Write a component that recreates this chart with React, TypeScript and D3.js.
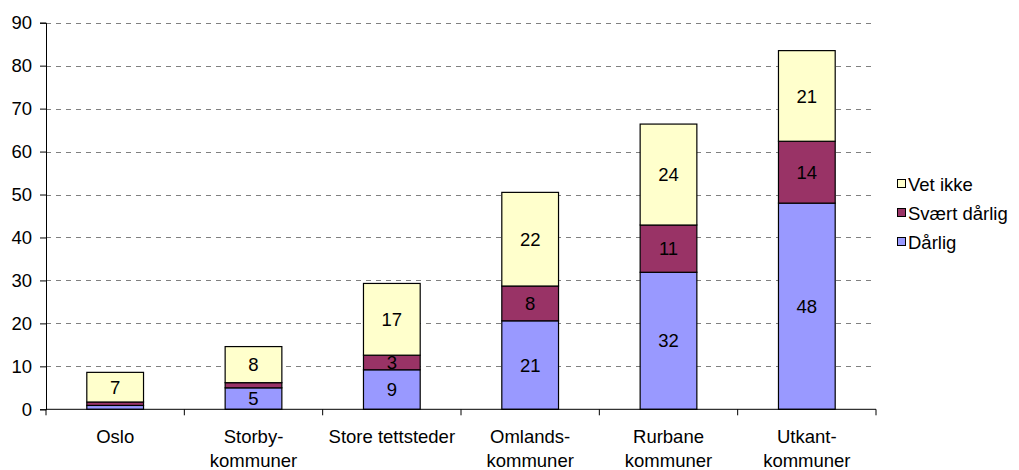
import React, { useEffect, useRef } from 'react';
import * as d3 from 'd3';

const categories = ['Oslo', 'Storby-\nkommuner', 'Store tettsteder', 'Omlands-\nkommuner', 'Rurbane\nkommuner', 'Utkant-\nkommuner'];
const darlig = [0.9, 5.0, 9.2, 20.6, 31.9, 48.0];
const svaertDarlig = [0.8, 1.2, 3.4, 8.1, 11.0, 14.4];
const vetIkke = [6.9, 8.4, 16.7, 21.8, 23.5, 21.1];
const seriesNames = ['Dårlig', 'Svært dårlig', 'Vet ikke'];
const seriesColors = ['#9999FF', '#993366', '#FFFFCC'];
const yTicks = [0, 10, 20, 30, 40, 50, 60, 70, 80, 90];

const App = () => {
  const svgRef = useRef<SVGSVGElement>(null);

  useEffect(() => {
    const width = 1019;
    const height = 470;
    const margin = { top: 22.7, right: 143, bottom: 60.7, left: 46 };

    const svg = d3.select(svgRef.current);
    svg.selectAll('*').remove();
    svg.attr('width', width).attr('height', height);

    const x = d3.scaleBand()
      .domain(categories)
      .range([margin.left, width - margin.right])
      .paddingInner(0.59)
      .paddingOuter(0.295);

    const y = d3.scaleLinear()
      .domain([0, 90])
      .range([height - margin.bottom, margin.top]);

    const font = '"Liberation Sans", Arial, sans-serif';
    const fs = 18.5;

    // gridlines
    svg.append('g')
      .selectAll('line')
      .data(yTicks.filter(t => t > 0))
      .enter()
      .append('line')
      .attr('x1', margin.left)
      .attr('x2', width - margin.right)
      .attr('y1', d => Math.round(y(d)) + 0.5)
      .attr('y2', d => Math.round(y(d)) + 0.5)
      .attr('stroke', '#808080')
      .attr('stroke-dasharray', '5,5');

    const rows = categories.map((c, i) => ({ cat: c, d0: darlig[i], d1: svaertDarlig[i], d2: vetIkke[i] }));
    const stack = d3.stack<any>().keys(['d0', 'd1', 'd2'])(rows);

    const layers = svg.append('g')
      .selectAll('g')
      .data(stack)
      .enter()
      .append('g')
      .attr('fill', (d, i) => seriesColors[i]);

    layers.selectAll('rect')
      .data(d => d)
      .enter()
      .append('rect')
      .attr('x', d => x(d.data.cat)!)
      .attr('y', d => y(d[1]))
      .attr('width', x.bandwidth())
      .attr('height', d => y(d[0]) - y(d[1]))
      .attr('stroke', '#000')
      .attr('stroke-width', 1.2);

    layers.selectAll('text')
      .data(d => d.filter(s => s[1] - s[0] >= 2))
      .enter()
      .append('text')
      .attr('x', d => x(d.data.cat)! + x.bandwidth() / 2)
      .attr('y', d => (y(d[0]) + y(d[1])) / 2)
      .attr('dy', '0.36em')
      .attr('text-anchor', 'middle')
      .attr('font-family', font)
      .attr('font-size', fs)
      .attr('fill', '#000')
      .text(d => Math.round(d[1] - d[0]));

    // y axis
    const yAxis = svg.append('g')
      .attr('transform', `translate(${margin.left},0)`)
      .call(d3.axisLeft(y).tickValues(yTicks).tickSize(6).tickPadding(8));
    yAxis.select('.domain').attr('stroke', '#000');
    yAxis.selectAll('text').attr('font-family', font).attr('font-size', fs).attr('fill', '#000');

    // x axis
    const xAxis = svg.append('g')
      .attr('transform', `translate(0,${height - margin.bottom})`);
    xAxis.append('line')
      .attr('x1', margin.left)
      .attr('x2', width - margin.right)
      .attr('stroke', '#000');
    const step = x.step();
    xAxis.selectAll('.tk')
      .data(d3.range(categories.length + 1))
      .enter()
      .append('line')
      .attr('class', 'tk')
      .attr('x1', i => margin.left + i * step)
      .attr('x2', i => margin.left + i * step)
      .attr('y1', 0)
      .attr('y2', 6)
      .attr('stroke', '#000');
    xAxis.selectAll('text')
      .data(categories)
      .enter()
      .append('text')
      .attr('x', d => x(d)! + x.bandwidth() / 2)
      .attr('y', 34)
      .attr('text-anchor', 'middle')
      .attr('font-family', font)
      .attr('font-size', fs)
      .attr('fill', '#000')
      .each(function (d) {
        const lines = d.split('\n');
        d3.select(this).selectAll('tspan')
          .data(lines)
          .enter()
          .append('tspan')
          .attr('x', x(d)! + x.bandwidth() / 2)
          .attr('dy', (l, k) => (k === 0 ? 0 : 24))
          .text(l => l);
      });

    // legend
    const legendItems = [2, 1, 0];
    const legend = svg.append('g');
    legendItems.forEach((s, k) => {
      const ly = 184 + k * 29;
      legend.append('rect')
        .attr('x', 897.5)
        .attr('y', ly - 4.5)
        .attr('width', 8)
        .attr('height', 8)
        .attr('fill', seriesColors[s])
        .attr('stroke', '#000');
      legend.append('text')
        .attr('x', 908)
        .attr('y', ly)
        .attr('dy', '0.36em')
        .attr('font-family', font)
        .attr('font-size', fs)
        .attr('fill', '#000')
        .text(seriesNames[s]);
    });
  }, []);

  return (
    <div style={{ position: 'absolute', left: 0, top: 0 }}>
      <svg ref={svgRef} style={{ display: 'block' }}></svg>
    </div>
  );
};

export default App;
